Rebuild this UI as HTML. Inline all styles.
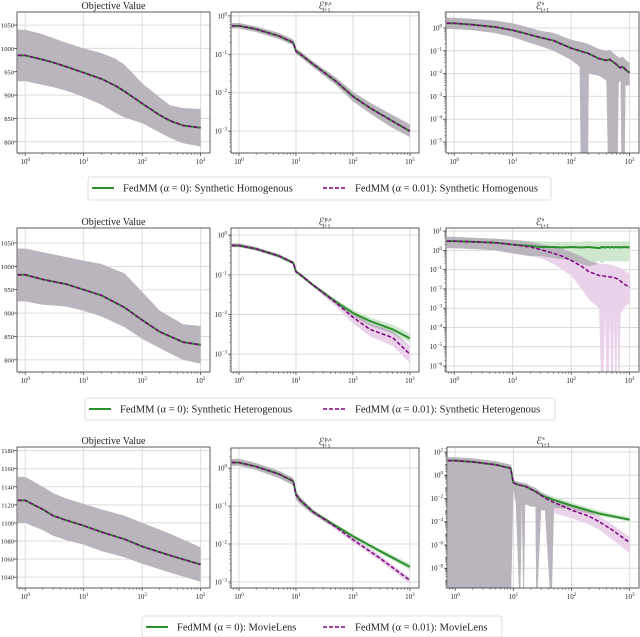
<!DOCTYPE html>
<html><head><meta charset="utf-8"><style>
html,body{margin:0;padding:0;background:#fff;}
svg{display:block;}
svg text{font-family:"Liberation Serif","DejaVu Serif",serif;}
</style></head><body>
<svg id="fig" width="640" height="637" viewBox="0 0 640 637" xmlns="http://www.w3.org/2000/svg" font-family="Liberation Serif, serif"></svg>
<script>
// ---------- data ----------
const p1T=[0.75,1,2,3,5,10,20,35,50,100,200,300,500,1000];
const p1Mean=[985,985,976,970,961,948,935,920,908,882,857,845,835,830];
const p1Hi=[1040,1040,1030,1022,1012,1000,990,978,965,925,895,878,872,870];
const p1Lo=[930,930,922,917,910,896,880,862,852,840,820,808,797,790];

const p2T=[0.75,1,2,5,9,10,12,20,50,100,200,500,1000];
const p2Mean=[0.55,0.55,0.45,0.3,0.2,0.12,0.1,0.055,0.02,0.008,0.004,0.0018,0.001];
const p2Hi=[0.65,0.65,0.53,0.36,0.24,0.14,0.12,0.065,0.025,0.0105,0.0055,0.0026,0.0015];
const p2Lo=[0.47,0.47,0.38,0.25,0.17,0.1,0.085,0.046,0.016,0.006,0.0029,0.0012,0.0007];

const p3T=[0.75,1,2,5,10,20,30,50,100,140,150,170,190,200,300,400,450,500,600,650,700,750,800,850,900,1000];
const p3Mean=[1.6,1.6,1.4,1.1,0.8,0.5,0.38,0.28,0.13,0.1,0.095,0.085,0.08,0.075,0.045,0.038,0.042,0.035,0.025,0.02,0.018,0.02,0.018,0.015,0.013,0.011];
const p3Hi=[2.8,2.8,2.5,2.1,1.6,1.0,0.75,0.6,0.3,0.25,0.24,0.22,0.2,0.19,0.12,0.1,0.11,0.09,0.06,0.05,0.05,0.055,0.05,0.04,0.035,0.03];
const p3Lo=[0.9,0.9,0.8,0.6,0.4,0.22,0.16,0.1,0.04,0.02,1e-9,1e-9,1e-9,0.01,0.008,0.005,1e-9,1e-9,1e-9,0.004,0.005,1e-9,1e-9,0.003,0.003,0.003];

const p4T=[0.75,1,2,5,10,20,50,100,200,500,1000];
const p4Mean=[982,982,972,962,950,938,912,885,860,838,832];
const p4Hi=[1038,1038,1030,1020,1012,1005,985,945,905,876,872];
const p4Lo=[925,925,918,914,905,893,870,845,825,800,792];

const p5T=[0.75,1,2,5,9,10,12,20,50,100,200,500,1000];
const p5Green=[0.55,0.55,0.45,0.3,0.2,0.12,0.1,0.055,0.021,0.011,0.0068,0.0042,0.0025];
const p5Purple=[0.55,0.55,0.45,0.3,0.2,0.12,0.1,0.055,0.02,0.0085,0.0042,0.0026,0.001];
const p5GreenHi=[0.62,0.62,0.5,0.33,0.22,0.13,0.11,0.06,0.024,0.013,0.0085,0.0055,0.0033];
const p5GreenLo=[0.5,0.5,0.41,0.27,0.18,0.11,0.09,0.05,0.018,0.009,0.0052,0.0033,0.002];
const p5PurpleHi=[0.62,0.62,0.5,0.33,0.22,0.13,0.11,0.06,0.023,0.011,0.006,0.0038,0.0016];
const p5PurpleLo=[0.5,0.5,0.41,0.27,0.18,0.11,0.09,0.05,0.016,0.006,0.0028,0.0016,0.0006];

const p6T=[0.75,1,2,5,10,20,30,50,70,100,150,200,300,340,380,420,460,500,540,580,620,660,700,800,1000];
const p6Green=[3,3,2.8,2.5,2,1.7,1.5,1.5,1.4,1.5,1.4,1.5,1.3,1.5,1.4,1.5,1.4,1.5,1.4,1.5,1.4,1.5,1.4,1.5,1.4];
const p6Purple=[3,3,2.8,2.5,2,1.5,1.1,0.7,0.5,0.3,0.15,0.08,0.05,0.048,0.045,0.044,0.042,0.04,0.038,0.036,0.033,0.03,0.025,0.018,0.012];
const p6GreenHi=[5,5,4.5,4,3.5,3,3,2.8,2.7,2.8,2.8,3,2.8,3,2.8,3,2.8,3,2.8,3,2.8,3,2.8,3,2.8];
const p6GreenLo=[1.3,1.3,1.2,1.0,0.7,0.5,0.5,0.4,0.35,0.3,0.2,0.15,0.3,0.2,0.3,0.25,0.3,0.25,0.3,0.25,0.3,0.25,0.3,0.25,0.3];
const p6PurpleHi=[5,5,4.5,4,3.5,2.8,2.2,1.5,1.2,0.8,0.5,0.3,0.2,0.2,0.19,0.19,0.18,0.18,0.16,0.15,0.14,0.13,0.12,0.1,0.06];
const p6PurpleLo=[1.3,1.3,1.2,1.0,0.7,0.5,0.4,0.2,0.1,0.05,0.01,0.003,0.001,1e-9,0.0005,1e-9,0.0005,1e-9,0.0004,1e-9,0.0004,1e-9,0.0005,0.001,0.002];

const p7T=[0.75,1,2,3,5,10,20,50,100,300,1000];
const p7Mean=[1125,1125,1115,1108,1103,1097,1090,1082,1074,1064,1054];
const p7Hi=[1151,1151,1140,1133,1127,1121,1115,1108,1100,1088,1073];
const p7Lo=[1100,1100,1092,1086,1081,1076,1069,1062,1055,1045,1035];

const p8T=[0.75,1,2,5,9,10,12,20,50,100,300,1000];
const p8Green=[1.4,1.4,1.1,0.7,0.45,0.2,0.14,0.07,0.03,0.016,0.0065,0.0025];
const p8Purple=[1.4,1.4,1.1,0.7,0.45,0.2,0.14,0.07,0.028,0.013,0.0042,0.0011];
const p8GreenHi=[1.75,1.75,1.35,0.85,0.55,0.25,0.17,0.08,0.034,0.018,0.0075,0.003];
const p8GreenLo=[1.15,1.15,0.9,0.55,0.35,0.15,0.11,0.06,0.026,0.014,0.0056,0.0021];
const p8PurpleHi=[1.75,1.75,1.35,0.85,0.55,0.25,0.17,0.08,0.032,0.015,0.005,0.0013];
const p8PurpleLo=[1.15,1.15,0.9,0.55,0.35,0.15,0.11,0.06,0.024,0.011,0.0035,0.0009];

const p9T=[0.75,1,2,5,9,10,11,13,14,15,16,17,20,24,25,30,35,45,50,55,100,200,300,500,1000];
const p9Green=[18,18,14,8,4,0.23,0.18,0.14,0.13,0.12,0.11,0.1,0.063,0.04,0.035,0.02,0.014,0.009,0.0075,0.0065,0.0025,0.0009,0.0005,0.0003,0.00015];
const p9Purple=[18,18,14,8,4,0.23,0.18,0.14,0.13,0.12,0.11,0.1,0.063,0.04,0.035,0.018,0.011,0.006,0.0045,0.0038,0.001,0.0003,0.0001,0.00002,0.0000016];
const p9GreenHi=[35,35,28,16,8,0.4,0.32,0.25,0.23,0.21,0.2,0.18,0.12,0.08,0.07,0.038,0.026,0.017,0.014,0.012,0.0045,0.0016,0.0009,0.0005,0.00025];
const p9GreenLo=[1e-12,1e-12,1e-12,1e-12,1e-12,0.06,0.004,1e-12,0.004,1e-12,0.003,0.003,0.002,0.002,1e-12,0.001,0.001,1e-12,0.0015,0.0015,0.0012,0.0005,0.0003,0.0002,0.0001];
const p9PurpleHi=[35,35,28,16,8,0.4,0.32,0.25,0.23,0.21,0.2,0.18,0.12,0.08,0.07,0.035,0.022,0.012,0.009,0.008,0.0025,0.0008,0.0003,0.00006,0.000005];
const p9PurpleLo=[1e-12,1e-12,1e-12,1e-12,1e-12,0.06,0.004,1e-12,0.004,1e-12,0.003,0.003,0.002,0.002,1e-12,0.001,0.0008,1e-12,0.0006,0.0005,0.0002,0.00006,0.00002,0.000003,0.0000002];

const xTickExps=[0,1,2,3];
const legendLabels=["Synthetic Homogenous","Synthetic Heterogenous","MovieLens"];

// ---------- rendering ----------
const NS="http://www.w3.org/2000/svg";
const svg=document.getElementById('fig');
const FONT='"Liberation Serif", "DejaVu Serif", serif';
function mk(tag,attrs,parent){const e=document.createElementNS(NS,tag);for(const k in attrs)e.setAttribute(k,attrs[k]);if(tag==='text')e.style.fontFamily=FONT;(parent||svg).appendChild(e);return e;}
const GREEN="#2b8f2b",PURPLE="#800080",GREY="#bab5bc";

const panels=[
 {id:1,box:[17,12,210,153],log:false,yl:[776,1078],yt:[800,850,900,950,1000,1050],title:"obj",t:p1T,g:p1Mean,p:p1Mean,gh:p1Hi,gl:p1Lo,ph:p1Hi,pl:p1Lo},
 {id:2,box:[231,12,419,153],log:true,yl:[-3.57,0.10],yt:[0,-1,-2,-3],title:"ps",t:p2T,g:p2Mean,p:p2Mean,gh:p2Hi,gl:p2Lo,ph:p2Hi,pl:p2Lo},
 {id:3,box:[446,12,639,153],log:true,yl:[-5.48,0.70],yt:[0,-1,-2,-3,-4,-5],title:"s",t:p3T,g:p3Mean,p:p3Mean,gh:p3Hi,gl:p3Lo,ph:p3Hi,pl:p3Lo},
 {id:4,box:[17,228,210,372],log:false,yl:[774,1082],yt:[800,850,900,950,1000,1050],title:"obj",t:p4T,g:p4Mean,p:p4Mean,gh:p4Hi,gl:p4Lo,ph:p4Hi,pl:p4Lo},
 {id:5,box:[231,228,419,372],log:true,yl:[-3.45,0.18],yt:[0,-1,-2,-3],title:"ps",t:p5T,g:p5Green,p:p5Purple,gh:p5GreenHi,gl:p5GreenLo,ph:p5PurpleHi,pl:p5PurpleLo},
 {id:6,box:[446,228,639,372],log:true,yl:[-6.31,1.16],yt:[1,0,-1,-2,-3,-4,-5,-6],title:"s",t:p6T,g:p6Green,p:p6Purple,gh:p6GreenHi,gl:p6GreenLo,ph:p6PurpleHi,pl:p6PurpleLo},
 {id:7,box:[17,447,210,588],log:false,yl:[1028,1184],yt:[1040,1060,1080,1100,1120,1140,1160,1180],title:"obj",t:p7T,g:p7Mean,p:p7Mean,gh:p7Hi,gl:p7Lo,ph:p7Hi,pl:p7Lo},
 {id:8,box:[231,448,419,588],log:true,yl:[-3.16,0.53],yt:[0,-1,-2,-3],title:"ps",t:p8T,g:p8Green,p:p8Purple,gh:p8GreenHi,gl:p8GreenLo,ph:p8PurpleHi,pl:p8PurpleLo},
 {id:9,box:[447,447,639,588],log:true,yl:[-9.7,2.43],yt:[2,0,-2,-4,-6,-8],title:"s",t:p9T,g:p9Green,p:p9Purple,gh:p9GreenHi,gl:p9GreenLo,ph:p9PurpleHi,pl:p9PurpleLo}
];
const XL=[-0.14,3.16];

function expLabel(parent,x,y,exp,anchor){
  const t=mk('text',{x:x,y:y,'font-size':7,fill:'#222','text-anchor':anchor},parent);
  t.appendChild(document.createTextNode('10'));
  const s=mk('tspan',{'font-size':5,dy:-3},t);
  s.textContent=(exp<0?'\u2212':'')+Math.abs(exp);
  return t;
}

panels.forEach(P=>{
  const [x0,y0,x1,y1]=P.box;
  const g=mk('g',{});
  
  
  const sx=v=>x0+(Math.log10(v)-XL[0])/(XL[1]-XL[0])*(x1-x0);
  const sy=v=>{const u=P.log?Math.log10(v):v;return y1-(u-P.yl[0])/(P.yl[1]-P.yl[0])*(y1-y0);};
  const syRaw=u=>y1-(u-P.yl[0])/(P.yl[1]-P.yl[0])*(y1-y0);
  const cid='clip'+P.id;
  const cp=mk('clipPath',{id:cid},g);mk('rect',{x:x0,y:y0,width:x1-x0,height:y1-y0},cp);
  xTickExps.forEach(e=>{const X=sx(Math.pow(10,e));const l=mk('line',{x1:X,x2:X,y1:y0,y2:y1,stroke:'#dcdcdc','stroke-width':1},g);
    
    });
  P.yt.forEach(v=>{const Y=syRaw(v);const l=mk('line',{x1:x0,x2:x1,y1:Y,y2:Y,stroke:'#dcdcdc','stroke-width':1},g);
    
    });
  const pg=mk('g',{'clip-path':'url(#'+cid+')'},g);
  function band(hi,lo,color,name){
    let d='';P.t.forEach((t,i)=>{d+=(i?'L':'M')+sx(t).toFixed(2)+','+sy(hi[i]).toFixed(2);});
    for(let i=P.t.length-1;i>=0;i--)d+='L'+sx(P.t[i]).toFixed(2)+','+sy(lo[i]).toFixed(2);
    const p=mk('path',{d:d+'Z',fill:color,stroke:'none'},pg);
    
    
  }
  band(P.gh,P.gl,'#cfe6cf','green-band');
  band(P.ph,P.pl,'#ead2ea','purple-band');
  const ih=P.gh.map((v,i)=>Math.min(v,P.ph[i]));
  const il=P.gl.map((v,i)=>Math.min(Math.max(v,P.pl[i]),ih[i]));
  band(ih,il,GREY,'overlap-band');
  function line(vals,color,dash,w,name){
    let d='';P.t.forEach((t,i)=>{d+=(i?'L':'M')+sx(t).toFixed(2)+','+sy(vals[i]).toFixed(2);});
    const a={d:d,fill:'none',stroke:color,'stroke-width':w,'stroke-linejoin':'round'};if(dash)a['stroke-dasharray']=dash;
    const p=mk('path',a,pg);
    
    
  }
  line(P.g,GREEN,null,2,'green-line');
  line(P.p,PURPLE,'4,2',1.5,'purple-dashed-line');
  const fr=mk('rect',{x:x0,y:y0,width:x1-x0,height:y1-y0,fill:'none',stroke:'#333','stroke-width':0.8},g);
  
  
  xTickExps.forEach(e=>{const X=sx(Math.pow(10,e));mk('line',{x1:X,x2:X,y1:y1,y2:y1+3,stroke:'#333','stroke-width':0.7},g);
    const lb=expLabel(g,X,y1+11,e,'middle');
    
    
    if(e<3)for(let k=2;k<10;k++){const Xm=sx(k*Math.pow(10,e));mk('line',{x1:Xm,x2:Xm,y1:y1,y2:y1+1.8,stroke:'#333','stroke-width':0.5},g);}
  });
  for(const k of [8,9]){const Xm=sx(k/10);if(Xm>x0)mk('line',{x1:Xm,x2:Xm,y1:y1,y2:y1+1.8,stroke:'#333','stroke-width':0.5},g);}
  P.yt.forEach(v=>{const Y=syRaw(v);mk('line',{x1:x0-3,x2:x0,y1:Y,y2:Y,stroke:'#333','stroke-width':0.7},g);
    let lb;
    if(P.log){lb=expLabel(g,x0-4,Y+2.5,v,'end');}
    else{lb=mk('text',{x:x0-3,y:Y+2.5,'font-size':6.5,fill:'#222','text-anchor':'end'},g);lb.textContent=v;}
    
    
  });
  if(P.log){for(let e=Math.floor(P.yl[0]);e<Math.ceil(P.yl[1]);e++)for(let k=2;k<10;k++){const Y=syRaw(e+Math.log10(k));if(Y>y0&&Y<y1)mk('line',{x1:x0-1.8,x2:x0,y1:Y,y2:Y,stroke:'#333','stroke-width':0.4},g);}}
  const cx=(x0+x1)/2;
  const tt=mk('text',{x:cx,y:y0-3,'font-size':10,fill:'#222','text-anchor':'middle'},g);
  
  
  if(P.title==='obj'){tt.textContent='Objective Value';}
  else{
    tt.appendChild(document.createTextNode('\u2130'));
    const sp=mk('tspan',{'font-size':6,dy:-4},tt);sp.textContent=P.title==='ps'?'p,s':'s';
    const sb=mk('tspan',{'font-size':6,dx:P.title==='ps'?-9:-3,dy:7},tt);sb.textContent='t+1';
  }
});

const legendY=[188,409,627];
const legendBox=[[88,177,551,200],[85,398,555,420],[142,616,502,637]];
legendLabels.forEach((lab,r)=>{
  const [bx0,by0,bx1,by1]=legendBox[r];const cy=legendY[r];
  const g=mk('g',{});
  
  
  mk('rect',{x:bx0,y:by0,width:bx1-bx0,height:by1-by0,rx:2,fill:'#fff',stroke:'#d6d6d6','stroke-width':0.8},g);
  mk('line',{x1:bx0+4,x2:bx0+26,y1:cy,y2:cy,stroke:GREEN,'stroke-width':2},g);
  const t1=mk('text',{x:bx0+35,y:cy+3.5,'font-size':10.5,fill:'#222'},g);
  t1.textContent='FedMM (\u03B1 = 0):  '+lab;
  
  
  mk('line',{x1:323,x2:345,y1:cy,y2:cy,stroke:PURPLE,'stroke-width':1.5,'stroke-dasharray':'4,2'},g);
  const t2=mk('text',{x:355,y:cy+3.5,'font-size':10.5,fill:'#222'},g);
  t2.textContent='FedMM (\u03B1 = 0.01):  '+lab;
  
  
});
</script>
</body></html>
